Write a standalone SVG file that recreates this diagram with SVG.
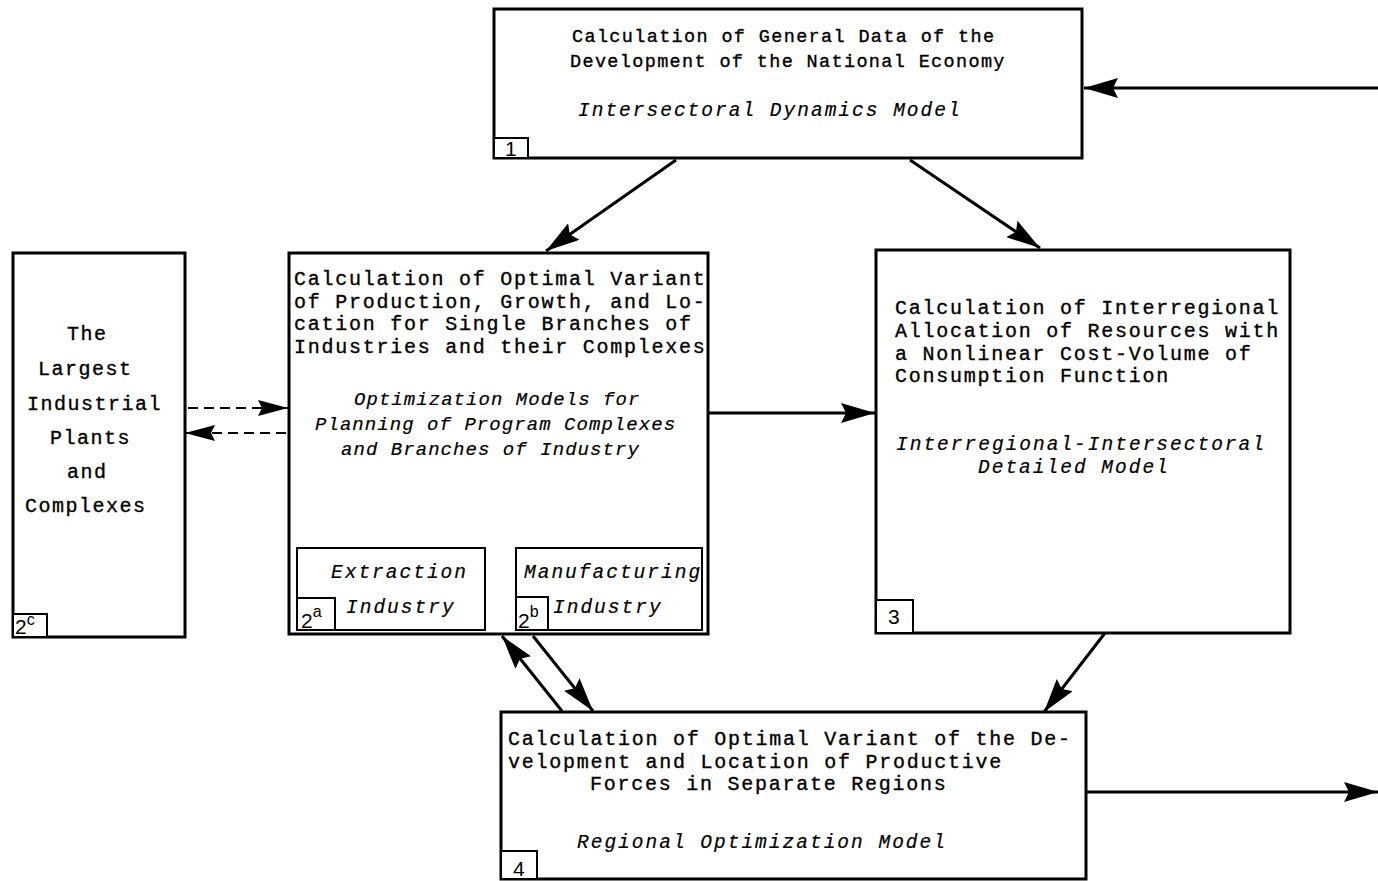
<svg xmlns="http://www.w3.org/2000/svg" width="1378" height="881" viewBox="0 0 1378 881">
  <style>
    .box { fill: #fff; stroke: #000; stroke-width: 3; }
    .sub { fill: #fff; stroke: #000; stroke-width: 2; }
    .tag { fill: #fff; stroke: #000; stroke-width: 2; }
    .t { font-family: "Liberation Mono", "DejaVu Sans Mono", monospace; font-size: 20px; letter-spacing: 1.75px; fill: #000; stroke: #000; stroke-width: 0.35; }
    .t1 { font-size: 18.5px; letter-spacing: 1.35px; }
    .tc { letter-spacing: 1.5px; }
    .i { font-family: "Liberation Mono", "DejaVu Sans Mono", monospace; font-style: italic; font-size: 19.5px; letter-spacing: 2px; fill: #000; stroke: #000; stroke-width: 0.2; }
    .i2 { font-size: 19px; letter-spacing: 1.05px; }
    .n { font-family: "Liberation Sans", Arial, sans-serif; font-size: 21px; fill: #000; }
    .sup { font-size: 16px; }
    .link { fill: none; stroke: #000; stroke-width: 3; }
    .dash { fill: none; stroke: #000; stroke-width: 2; stroke-dasharray: 10 6; }
  </style>
  <defs>
    <marker id="ah" markerUnits="userSpaceOnUse" markerWidth="34" markerHeight="20" refX="34" refY="10" orient="auto">
      <path d="M0,0 L34,10 L0,20 L5,10 Z" fill="#000"/>
    </marker>
    <marker id="ahs" markerUnits="userSpaceOnUse" markerWidth="30" markerHeight="16" refX="30" refY="8" orient="auto">
      <path d="M0,0 L30,8 L0,16 L4,8 Z" fill="#000"/>
    </marker>
  </defs>

  <rect width="1378" height="881" fill="#fff"/>

  <!-- connectors -->
  <g id="connectors">
    <line class="link" x1="1378" y1="88" x2="1084" y2="88" marker-end="url(#ah)"/>
    <line class="link" x1="676" y1="160" x2="546" y2="251" marker-end="url(#ah)"/>
    <line class="link" x1="910" y1="160" x2="1040" y2="248" marker-end="url(#ah)"/>
    <line class="link" x1="708" y1="413" x2="875" y2="413" marker-end="url(#ah)"/>
    <line class="link" x1="1105" y1="633" x2="1044" y2="712" marker-end="url(#ah)"/>
    <line class="link" x1="562" y1="711" x2="502" y2="636" marker-end="url(#ah)"/>
    <line class="link" x1="533" y1="636" x2="593" y2="711" marker-end="url(#ah)"/>
    <line class="link" x1="1086" y1="792" x2="1378" y2="792" marker-end="url(#ah)"/>
    <line class="link" x1="388" y1="485" x2="388" y2="547" marker-end="url(#ah)"/>
    <line class="dash" x1="188" y1="408" x2="288" y2="408" marker-end="url(#ahs)"/>
    <line class="dash" x1="286" y1="433" x2="185" y2="433" marker-end="url(#ahs)"/>
  </g>

  <!-- 1: national economy -->
  <g id="node1">
    <rect class="box" x="494" y="9" width="588" height="149"/>
    <text class="t t1" x="572" y="42">Calculation of General Data of the</text>
    <text class="t t1" x="570" y="67">Development of the National Economy</text>
    <text class="i" x="578" y="116">Intersectoral Dynamics Model</text>
    <rect class="tag" x="494" y="138" width="34" height="20"/>
    <text class="n" x="505" y="156">1</text>
  </g>

  <!-- 2c: largest plants -->
  <g id="node2c">
    <rect class="box" x="13" y="253" width="172" height="384"/>
    <text class="t tc" x="67" y="340">The</text>
    <text class="t tc" x="38" y="375">Largest</text>
    <text class="t tc" x="27" y="410">Industrial</text>
    <text class="t tc" x="50" y="444">Plants</text>
    <text class="t tc" x="67" y="478">and</text>
    <text class="t tc" x="25" y="512">Complexes</text>
    <rect class="tag" x="13" y="614" width="34" height="23"/>
    <text class="n" x="15" y="634">2<tspan class="sup" dy="-9">c</tspan></text>
  </g>

  <!-- 2: branches of industry -->
  <g id="node2">
    <rect class="box" x="289" y="253" width="419" height="381"/>
    <text class="t" x="294" y="285">Calculation of Optimal Variant</text>
    <text class="t" x="294" y="308">of Production, Growth, and Lo-</text>
    <text class="t" x="294" y="330">cation for Single Branches of</text>
    <text class="t" x="294" y="353">Industries and their Complexes</text>
    <text class="i i2" x="354" y="405">Optimization Models for</text>
    <text class="i i2" x="315" y="430">Planning of Program Complexes</text>
    <text class="i i2" x="341" y="455">and Branches of Industry</text>
  </g>

  <!-- 2a: extraction -->
  <g id="node2a">
    <rect class="sub" x="297" y="548" width="188" height="82"/>
    <text class="i" x="331" y="578">Extraction</text>
    <text class="i" x="346" y="613">Industry</text>
    <rect class="tag" x="297" y="598" width="38" height="32"/>
    <text class="n" x="301" y="628">2<tspan class="sup" dy="-11">a</tspan></text>
  </g>

  <!-- 2b: manufacturing -->
  <g id="node2b">
    <rect class="sub" x="516" y="548" width="186" height="82"/>
    <text class="i" x="524" y="578">Manufacturing</text>
    <text class="i" x="553" y="613">Industry</text>
    <rect class="tag" x="516" y="597" width="32" height="33"/>
    <text class="n" x="518" y="628">2<tspan class="sup" dy="-11">b</tspan></text>
  </g>

  <!-- 3: interregional allocation -->
  <g id="node3">
    <rect class="box" x="876" y="250" width="414" height="383"/>
    <text class="t" x="895" y="314">Calculation of Interregional</text>
    <text class="t" x="895" y="337">Allocation of Resources with</text>
    <text class="t" x="895" y="360">a Nonlinear Cost-Volume of</text>
    <text class="t" x="895" y="382">Consumption Function</text>
    <text class="i" x="896" y="450">Interregional-Intersectoral</text>
    <text class="i" x="978" y="473">Detailed Model</text>
    <rect class="tag" x="876" y="600" width="37" height="33"/>
    <text class="n" x="888" y="624">3</text>
  </g>

  <!-- 4: regional optimization -->
  <g id="node4">
    <rect class="box" x="501" y="712" width="585" height="167"/>
    <text class="t" x="508" y="745">Calculation of Optimal Variant of the De-</text>
    <text class="t" x="508" y="768">velopment and Location of Productive</text>
    <text class="t" x="590" y="790">Forces in Separate Regions</text>
    <text class="i" x="577" y="848">Regional Optimization Model</text>
    <rect class="tag" x="501" y="851" width="36" height="28"/>
    <text class="n" x="513" y="876">4</text>
  </g>
</svg>
